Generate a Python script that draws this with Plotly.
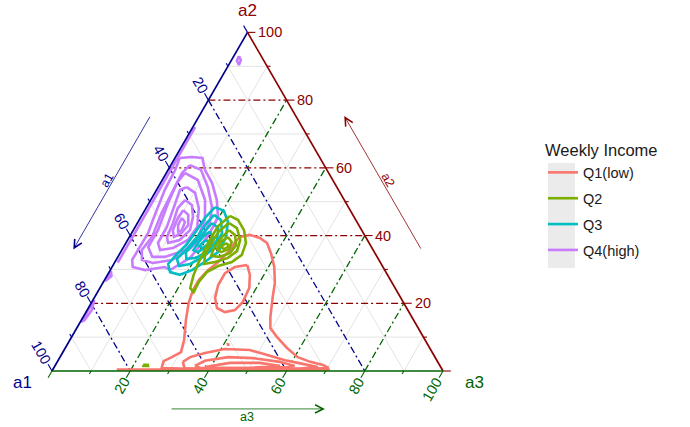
import math
import plotly.graph_objects as go

# ---------------- data (ternary compositions, a1 + a2 + a3 = 100) ----------------
GROUPS = ["Q1(low)", "Q2", "Q3", "Q4(high)"]
COLORS = ["#F8766D", "#7CAE00", "#00BFC4", "#C77CFF"]

# Q1(low) density contours
Q1_R1 = [(32.1,39.6,28.3),(29.3,40.2,30.5),(27.2,39.3,33.5),(26.1,37.8,36.1),(26.6,34.8,38.6),(27.8,30.7,41.5),
         (30.0,26.0,44.0),(32.6,21.9,45.5),(36.2,15.9,47.9),(37.8,12.7,49.5),(37.5,10.3,52.2),(36.5,6.8,56.7),
         (35.1,4.1,60.8),(32.6,2.7,64.7),(29.8,1.8,68.4),(28.8,0.9,70.3),(36.3,0.6,63.1),(49.1,0.6,50.3),
         (61.8,0.6,37.6),(71.5,0.9,27.6),(70.0,2.9,27.1),(67.3,4.1,28.6),(64.2,5.6,30.2),(61.6,9.2,29.2),
         (58.2,15.1,26.7),(55.0,20.1,24.9),(52.0,23.9,24.1),(49.0,26.9,24.1),(45.2,29.8,25.0),(41.4,32.2,26.4),
         (37.4,35.1,27.5),(34.1,38.1,27.8)]
Q1_R2 = [(34.4,31.3,34.3),(35.2,28.4,36.4),(37.3,24.5,38.2),(41.0,20.4,38.6),(44.2,18.0,37.8),(47.1,17.4,35.5),
         (48.5,18.6,32.9),(47.5,21.6,30.9),(44.8,25.4,29.8),(41.3,28.9,29.8),(37.9,30.7,31.4)]
Q1_R3 = [(65.2,2.7,32.1),(62.6,4.1,33.3),(58.2,5.3,36.5),(52.6,6.5,40.9),(46.3,6.2,47.5),(42.5,4.7,52.8),
         (38.8,3.2,58.0),(34.8,2.1,63.1),(31.4,1.2,67.4),(36.3,0.7,63.0),(46.5,0.7,52.8),(56.7,0.7,42.6),
         (65.7,0.7,33.6)]
Q1_R4 = [(62.7,1.5,35.8),(59.4,3.0,37.6),(52.9,4.1,43.0),(46.7,3.8,49.5),(40.4,2.7,56.9),(37.2,1.5,61.3),
         (43.8,0.9,55.3),(54.0,0.9,45.1),(61.6,0.9,37.5)]
Q1_R5 = [(60.3,1.2,38.5),(53.3,2.4,44.3),(45.6,2.4,52.0),(40.9,1.5,57.6),(49.0,0.9,50.1),(56.6,0.9,42.5)]
Q1_DOT = [(50.8,8.2,41.0),(51.3,7.8,40.9),(51.0,7.8,41.2)]
Q1_BASE = [(83.2,0.45,16.35),(55.0,0.45,44.55),(28.7,0.45,70.85)]

# Q2 density contours
Q2_R1 = [(31.6,45.8,22.6),(30.1,44.6,25.3),(30.1,41.6,28.3),(31.5,37.8,30.7),(34.3,34.3,31.4),(37.9,32.2,29.9),
         (42.0,31.0,27.0),(45.8,29.2,25.0),(49.3,26.3,24.4),(52.1,23.3,24.6),(52.4,24.5,23.1),(49.8,28.1,22.1),
         (46.9,31.6,21.5),(43.6,35.1,21.3),(40.3,38.7,21.0),(36.1,42.8,21.1)]
Q2_R2 = [(32.9,43.7,23.4),(31.6,42.2,26.2),(32.5,38.7,28.8),(35.0,35.4,29.6),(38.3,33.4,28.3),(42.2,32.2,25.6),
         (45.3,31.6,23.1),(43.7,34.3,22.0),(40.6,37.5,21.9),(36.6,41.3,22.1)]
Q2_R3 = [(33.9,41.6,24.5),(33.1,40.2,26.7),(34.3,37.2,28.5),(37.1,34.8,28.1),(40.4,33.7,25.9),(42.3,34.0,23.7),
         (39.9,36.9,23.2),(36.7,39.6,23.7)]
Q2_R4 = [(35.2,39.6,25.2),(35.0,38.1,26.9),(36.7,36.0,27.3),(39.2,35.1,25.7),(39.8,36.0,24.2),(37.8,38.1,24.1)]
Q2_R5 = [(36.6,37.8,25.6),(36.2,36.9,26.9),(38.0,36.0,26.0),(38.5,36.6,24.9)]
Q2_BLOB = [(75.8,1.8,22.4),(74.6,1.8,23.6),(74.7,1.5,23.8),(75.9,1.5,22.6)]

# Q3 density contours
Q3_R1 = [(34.1,48.4,17.5),(32.4,47.3,20.3),(33.0,44.0,23.0),(35.9,39.3,24.8),(40.0,35.1,24.9),(44.8,32.2,23.0),
         (49.3,29.8,20.9),(53.1,28.4,18.5),(55.2,29.2,15.6),(54.5,31.6,13.9),(51.1,34.3,14.6),(47.1,37.2,15.7),
         (42.7,41.1,16.2),(38.3,45.2,16.5)]
Q3_R2 = [(35.5,46.1,18.4),(34.5,44.6,20.9),(36.1,40.8,23.1),(40.0,36.6,23.4),(44.5,33.7,21.8),(48.9,31.6,19.5),
         (52.0,31.0,17.0),(51.5,33.1,15.4),(47.1,36.3,16.6),(42.7,39.9,17.4),(38.6,43.7,17.7)]
Q3_R3 = [(37.2,43.7,19.1),(36.4,42.2,21.4),(38.4,38.7,22.9),(42.4,35.4,22.2),(46.5,33.4,20.1),(49.1,33.1,17.8),
         (48.2,35.1,16.7),(44.2,38.1,17.7),(40.2,41.3,18.5)]
Q3_R4 = [(39.1,41.1,19.8),(39.0,39.6,21.4),(41.6,36.9,21.5),(45.2,35.1,19.7),(46.0,35.7,18.3),(43.4,38.1,18.5),
         (40.8,40.2,19.0)]
Q3_R5 = [(41.2,38.7,20.1),(40.9,37.8,21.3),(43.2,36.3,20.5),(43.9,36.9,19.2)]

# Q4(high) density contours
Q4_R1 = [(35.9,62.9,1.2),(32.6,63.2,4.2),(30.1,62.9,7.0),(31.2,59.4,9.4),(31.3,55.5,13.2),(32.6,50.5,16.9),
         (34.8,45.5,19.7),(37.6,42.5,19.9),(41.6,38.7,19.7),(48.0,33.4,18.6),(54.9,29.8,15.3),(55.8,30.7,13.5),
         (61.3,29.8,8.9),(64.0,30.7,5.3),(63.1,32.8,4.1),(60.1,35.7,4.2),(55.0,40.8,4.2),(51.9,44.6,3.5),
         (44.4,53.5,2.1),(38.8,59.4,1.8)]
Q4_R1B = [(34.3,60.8,4.9),(32.2,59.4,8.4),(33.0,54.3,12.7),(34.9,48.4,16.7),(37.6,44.0,18.4),(41.8,39.6,18.6),
          (47.3,35.7,17.0),(52.9,32.8,14.3),(58.2,31.9,9.9),(60.6,32.8,6.6),(59.2,35.7,5.1),(54.6,39.6,5.8),
          (48.6,46.7,4.7),(42.3,53.5,4.2),(37.5,58.5,4.0)]
Q4_R2 = [(36.8,58.5,4.7),(34.5,56.4,9.1),(35.6,50.5,13.9),(38.6,44.6,16.8),(42.9,39.6,17.5),(48.1,35.7,16.2),
         (54.3,33.7,12.0),(57.5,33.7,8.8),(57.1,36.6,6.3),(52.1,41.6,6.3),(45.5,49.6,4.9),(40.3,55.5,4.2)]
Q4_R3 = [(38.4,54.3,7.3),(37.1,52.6,10.3),(38.4,48.1,13.5),(41.6,42.5,15.9),(45.9,38.7,15.4),(50.9,36.3,12.8),
         (54.5,35.7,9.8),(54.0,37.8,8.2),(49.4,42.5,8.1),(43.7,49.6,6.7),(40.5,53.5,6.0)]
Q4_R4 = [(40.7,50.5,8.8),(39.7,49.0,11.3),(41.2,45.5,13.3),(43.9,41.6,14.5),(48.0,38.7,13.3),(51.4,37.8,10.8),
         (50.8,39.6,9.6),(47.2,43.7,9.1),(43.8,48.1,8.1)]
Q4_R5 = [(42.7,47.5,9.8),(42.1,46.1,11.8),(43.6,43.1,13.3),(46.4,40.8,12.8),(49.0,39.6,11.4),(48.3,41.6,10.1),
         (45.2,45.2,9.6)]
Q4_R6 = [(44.2,45.2,10.6),(44.0,44.0,12.0),(46.0,41.6,12.4),(47.2,41.1,11.7),(46.2,43.1,10.7)]
Q4_TOP = [(5.7,93.0,1.3),(5.8,91.8,2.4),(7.0,90.4,2.6),(6.9,91.6,1.5)]
Q4_EDGE = [(27.4,72.0,0.6),(36.3,63.0,0.7),(49.3,50.0,0.7),(59.2,40.0,0.8),(67.2,32.0,0.8)]
Q4_BIT1 = [(73.2,26.5,0.3),(70.2,29.5,0.3),(70.8,28.0,1.2)]
Q4_BIT2 = [(78.7,21.0,0.3),(80.8,18.0,1.2),(84.2,15.0,0.8),(85.3,14.5,0.2)]

# (ring, closed?) per group
CONTOURS = {
    "Q1(low)": [(Q1_R1, True), (Q1_R2, True), (Q1_R3, True), (Q1_R4, True), (Q1_R5, True),
                (Q1_DOT, True), (Q1_BASE, False)],
    "Q2": [(Q2_R1, True), (Q2_R2, True), (Q2_R3, True), (Q2_R4, True), (Q2_R5, True), (Q2_BLOB, True)],
    "Q3": [(Q3_R1, True), (Q3_R2, True), (Q3_R3, True), (Q3_R4, True), (Q3_R5, True)],
    "Q4(high)": [(Q4_R1, True), (Q4_R1B, True), (Q4_R2, True), (Q4_R3, True), (Q4_R4, True), (Q4_R5, True),
                 (Q4_R6, True), (Q4_TOP, True), (Q4_EDGE, False), (Q4_BIT1, True), (Q4_BIT2, True)],
}
DRAW_ORDER = ["Q1(low)", "Q4(high)", "Q3", "Q2"]

MAJOR = [20, 40, 60, 80]
MINOR = [10, 30, 50, 70, 90]
TICKS = list(range(0, 101, 10))
LABELS = [20, 40, 60, 80, 100]

BLUE, RED, GREEN = "#00008B", "#8B0000", "#006400"
FONT = "Liberation Sans, Arial, sans-serif"

# ---------------- ternary -> plane ----------------
H = math.sqrt(3) / 2


def to_xy(a1, a2, a3):
    s = a1 + a2 + a3
    return (a3 + a2 / 2) / s, a2 / s * H


fig = go.Figure()

# contour traces
for g in DRAW_ORDER:
    xs, ys = [], []
    for ring, closed in CONTOURS[g]:
        pts = list(ring) + ([ring[0]] if closed else [])
        for p in pts:
            x, y = to_xy(*p)
            xs.append(x)
            ys.append(y)
        xs.append(None)
        ys.append(None)
    i = GROUPS.index(g)
    fig.add_trace(go.Scatter(x=xs, y=ys, mode="lines", name=g, legendgroup=g, legendrank=i + 1,
                             line=dict(color=COLORS[i], width=2.6), hoverinfo="skip"))

shapes = []


def seg(p, q, color, width, dash="solid", layer="below"):
    x0, y0 = to_xy(*p)
    x1, y1 = to_xy(*q)
    shapes.append(dict(type="line", xref="x", yref="y", x0=x0, y0=y0, x1=x1, y1=y1,
                       line=dict(color=color, width=width, dash=dash), layer=layer))


# minor grid
for v in MINOR:
    seg((v, 100 - v, 0), (v, 0, 100 - v), "#E0E0E0", 0.9)
    seg((100 - v, v, 0), (0, v, 100 - v), "#E0E0E0", 0.9)
    seg((100 - v, 0, v), (0, 100 - v, v), "#E0E0E0", 0.9)
# major grid (dot-dash, axis coloured)
DD = "7px,3px,2px,3px"
for v in MAJOR:
    seg((v, 100 - v, 0), (v, 0, 100 - v), BLUE, 1.3, DD)
    seg((100 - v, v, 0), (0, v, 100 - v), RED, 1.3, DD)
    seg((100 - v, 0, v), (0, 100 - v, v), GREEN, 1.3, DD)

# triangle border
seg((100, 0, 0), (0, 100, 0), BLUE, 1.7, layer="above")
seg((0, 100, 0), (0, 0, 100), RED, 1.7, layer="above")
seg((100, 0, 0), (0, 0, 100), GREEN, 1.7, layer="above")

# ticks
for v in TICKS:
    d = 2.0 if v % 20 == 0 else 0.9
    seg((v, 100 - v, 0), (v, 100 - v + d, -d), BLUE, 1.1, layer="above")
    seg((0, v, 100 - v), (-d, v, 100 - v + d), RED, 1.1, layer="above")
    seg((100 - v, 0, v), (100 - v + d, -d, v), GREEN, 1.1, layer="above")

# legend key background
shapes.append(dict(type="rect", xref="paper", yref="paper", x0=548 / 690, x1=575 / 690,
                   y0=1 - 268 / 427, y1=1 - 163 / 427, fillcolor="#EBEBEB", line=dict(width=0),
                   layer="below"))

ann = []
TFS = 14.5


def label(p, text, color, size, angle=0, xanchor="center"):
    x, y = to_xy(*p)
    ann.append(dict(x=x, y=y, xref="x", yref="y", text=text, showarrow=False, textangle=angle,
                    xanchor=xanchor, yanchor="middle", font=dict(family=FONT, size=size, color=color)))


for v in LABELS:
    w = 0.556 * TFS * len(str(v))
    d = (9.0 + w / 2) / 3.91
    label((v, 100 - v + d, -d), str(v), BLUE, TFS, 60)
    label((100 - v + d, -d, v), str(v), GREEN, TFS, -60)
    d2 = 2.2
    label((-d2, v, 100 - v + d2), str(v), RED, TFS, 0, "left")

# axis titles
label((109.4, -3.5, -5.9), "a1", BLUE, 17)
label((-3.2, 106.6, -3.4), "a2", RED, 17)
label((-6.2, -3.5, 109.7), "a3", GREEN, 17)

# axis arrows
ARROWS = [((37.0, 75.5, -12.5), (76.6, 35.9, -12.5), BLUE),
          ((-12.4, 35.7, 76.7), (-12.4, 75.3, 37.1), RED),
          ((75.4, -11.2, 35.8), (35.8, -11.2, 75.4), GREEN)]
for tail, head, col in ARROWS:
    hx, hy = to_xy(*head)
    tx, ty = to_xy(*tail)
    ann.append(dict(x=hx, y=hy, ax=tx, ay=ty, xref="x", yref="y", axref="x", ayref="y", text="",
                    showarrow=True, arrowhead=5, arrowsize=2.0, arrowwidth=0.8, arrowcolor=col))
label((57.7, 56.4, -14.1), "a1", BLUE, 12.5, -60)
label((-14.1, 56.4, 57.7), "a2", RED, 12.5, 60)
label((56.9, -13.6, 56.7), "a3", GREEN, 12.5, 0)

fig.update_layout(
    width=690, height=427, margin=dict(l=0, r=0, t=0, b=0),
    paper_bgcolor="white", plot_bgcolor="white",
    xaxis=dict(range=[-52 / 391, 638 / 391], visible=False, fixedrange=True),
    yaxis=dict(range=[-56 / 391, 371 / 391], visible=False, fixedrange=True),
    shapes=shapes, annotations=ann,
    showlegend=True,
    legend=dict(x=543 / 690, y=1 - 135 / 427, xanchor="left", yanchor="top",
                title=dict(text="Weekly Income", font=dict(family=FONT, size=16.5, color="#1A1A1A")),
                font=dict(family=FONT, size=14.5, color="#1A1A1A"),
                tracegroupgap=4, bgcolor="rgba(0,0,0,0)", itemwidth=30),
    font=dict(family=FONT),
)

fig.write_html("out.html", config={"displayModeBar": False},
               post_script="document.body.style.margin='0px';")
